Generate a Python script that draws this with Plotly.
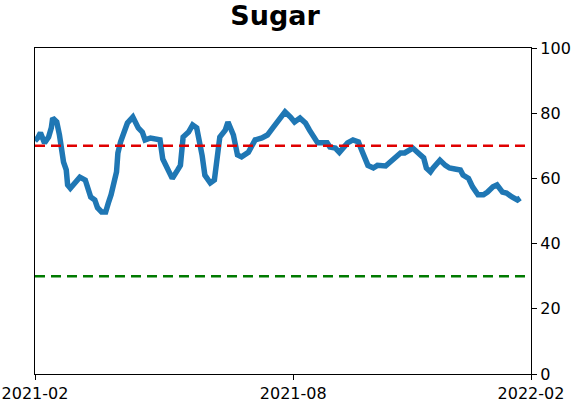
import plotly.graph_objects as go

dates = [
    "2021-02-01", "2021-02-03", "2021-02-05", "2021-02-08", "2021-02-11", "2021-02-13",
    "2021-02-14", "2021-02-17", "2021-02-19", "2021-02-22", "2021-02-24", "2021-02-25",
    "2021-02-27", "2021-03-03", "2021-03-06", "2021-03-10", "2021-03-12", "2021-03-14",
    "2021-03-17", "2021-03-19", "2021-03-22", "2021-03-25", "2021-03-27", "2021-03-29",
    "2021-04-02", "2021-04-03", "2021-04-05", "2021-04-08", "2021-04-10", "2021-04-14",
    "2021-04-18", "2021-04-21", "2021-04-23", "2021-04-27", "2021-04-29", "2021-05-03",
    "2021-05-04", "2021-05-06", "2021-05-09", "2021-05-13", "2021-05-17", "2021-05-19",
    "2021-05-21", "2021-05-25", "2021-05-28", "2021-05-31", "2021-06-04", "2021-06-06",
    "2021-06-10", "2021-06-13", "2021-06-17", "2021-06-21", "2021-06-23", "2021-06-27",
    "2021-06-30", "2021-07-03", "2021-07-08", "2021-07-13", "2021-07-18", "2021-07-22",
    "2021-07-26", "2021-07-31", "2021-08-04", "2021-08-08", "2021-08-11", "2021-08-15",
    "2021-08-19", "2021-08-22", "2021-08-25", "2021-08-28", "2021-08-31", "2021-09-04",
    "2021-09-06", "2021-09-10", "2021-09-13", "2021-09-16", "2021-09-19", "2021-09-23",
    "2021-09-27", "2021-09-30", "2021-10-04", "2021-10-08", "2021-10-11", "2021-10-17",
    "2021-10-20", "2021-10-24", "2021-10-28", "2021-10-31", "2021-11-04", "2021-11-06",
    "2021-11-10", "2021-11-14", "2021-11-16", "2021-11-19", "2021-11-21", "2021-11-24",
    "2021-11-26", "2021-11-30", "2021-12-03", "2021-12-07", "2021-12-11", "2021-12-13",
    "2021-12-17", "2021-12-20", "2021-12-24", "2021-12-28", "2021-12-31", "2022-01-04",
    "2022-01-07", "2022-01-11", "2022-01-14", "2022-01-18", "2022-01-22", "2022-01-24",
]

values = [
    71.5, 72.4, 74.0, 70.9, 72.7, 75.5,
    78.5, 77.3, 73.3, 65.0, 62.6, 58.0,
    57.0, 59.0, 60.4, 59.5, 57.0, 54.3,
    53.4, 51.0, 49.7, 49.7, 52.5, 55.0,
    62.0, 67.8, 71.2, 75.5, 77.0, 78.8,
    75.5, 74.2, 71.8, 72.4, 72.2, 71.8,
    71.8, 66.0, 63.5, 60.0, 62.6, 64.0,
    72.7, 74.2, 76.4, 75.5, 67.0, 61.0,
    58.6, 59.5, 72.7, 74.8, 77.3, 73.3,
    67.2, 66.6, 68.0, 71.8, 72.4, 73.3,
    75.5, 78.5, 80.4, 78.8, 77.3, 78.5,
    77.0, 74.8, 72.7, 70.9, 70.9, 70.9,
    69.6, 69.3, 68.0, 69.3, 70.9, 71.8,
    71.2, 68.0, 64.0, 63.2, 64.0, 63.8,
    65.0, 66.6, 67.8, 67.8, 68.7, 69.3,
    67.8, 66.3, 63.2, 62.0, 63.2, 65.0,
    65.6, 64.0, 63.2, 62.9, 62.6, 61.0,
    60.0, 57.4, 55.0, 55.0, 55.8, 57.4,
    58.0, 55.8, 55.5, 54.3, 53.4, 54.0,
]

upper_level = 70
lower_level = 30
x_range = ["2021-02-01", "2022-02-01"]
x_tickvals = ["2021-02-01", "2021-08-10", "2022-02-01"]
x_ticktext = ["2021-02", "2021-08", "2022-02"]
y_tickvals = [0, 20, 40, 60, 80, 100]

fig = go.Figure()
fig.add_trace(go.Scatter(
    x=dates, y=values, mode="lines",
    line=dict(color="#1f77b4", width=5.5),
    showlegend=False, hoverinfo="skip",
))

fig.add_shape(type="line", xref="paper", yref="y", x0=0, x1=1,
              y0=upper_level, y1=upper_level,
              line=dict(color="#e00000", width=2.5, dash="10px,6px"))
fig.add_shape(type="line", xref="paper", yref="y", x0=0, x1=1,
              y0=lower_level, y1=lower_level,
              line=dict(color="#007a00", width=2.5, dash="10px,6px"))

fig.update_layout(
    width=572, height=402,
    margin=dict(l=35, r=41, t=48, b=28, autoexpand=False),
    paper_bgcolor="white", plot_bgcolor="white",
    font=dict(family="DejaVu Sans", size=16, color="black"),
    title=dict(text="<b>Sugar</b>", x=0.481, xanchor="center",
               y=0.985, yanchor="top",
               font=dict(family="DejaVu Sans", size=27, color="black")),
    xaxis=dict(
        type="date", range=x_range, automargin=False,
        tickvals=x_tickvals, ticktext=x_ticktext,
        showgrid=False, zeroline=False,
        showline=True, linecolor="black", linewidth=1.2, mirror=True,
        ticks="outside", ticklen=5, tickcolor="black",
    ),
    yaxis=dict(
        range=[0, 100], side="right", automargin=False,
        tickvals=y_tickvals,
        showgrid=False, zeroline=False,
        showline=True, linecolor="black", linewidth=1.2, mirror=True,
        ticks="outside", ticklen=5, tickcolor="black",
    ),
)

fig.write_html(
    "out.html",
    config={"displayModeBar": False},
    post_script="document.body.style.margin='0';document.body.style.overflow='hidden';",
)
